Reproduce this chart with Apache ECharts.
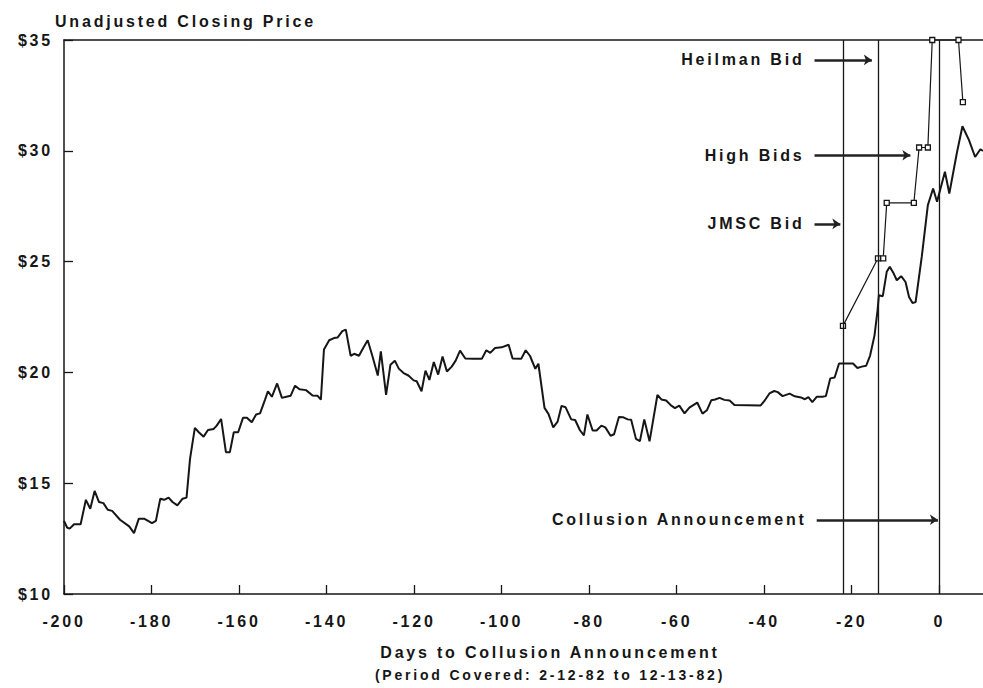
<!DOCTYPE html>
<html>
<head>
<meta charset="utf-8">
<title>Unadjusted Closing Price</title>
<script src="https://cdn.jsdelivr.net/npm/echarts@6/dist/echarts.min.js"></script>
<style>
  html, body { margin: 0; padding: 0; background: #fff; }
  #chart { width: 983px; height: 688px; }
  #chart text { letter-spacing: 2.8px; }
</style>
</head>
<body>
<div id="chart"></div>
<script>
// [day relative to announcement, closing price $]
const closingPrices = [
  [-200, 13.3], [-199.3, 13.0], [-198.7, 12.95], [-197.7, 13.15], [-196.2, 13.15], [-195, 14.25],
  [-194, 13.85], [-193, 14.65], [-192, 14.15], [-191, 14.1], [-190, 13.8], [-189, 13.75],
  [-187.2, 13.35], [-185.1, 13.05], [-184, 12.75], [-182.9, 13.4], [-181.7, 13.4], [-179.9, 13.2],
  [-179, 13.3], [-178, 14.3], [-177.1, 14.25], [-176.1, 14.35], [-175.2, 14.15], [-174.1, 14.0],
  [-172.9, 14.3], [-172, 14.35], [-171.2, 16.1], [-170.1, 17.5], [-169.2, 17.3], [-168.1, 17.1],
  [-167.1, 17.4], [-165.8, 17.45], [-165.1, 17.6], [-164.1, 17.9], [-163, 16.4], [-162.1, 16.4],
  [-161.2, 17.3], [-160.2, 17.3], [-159.1, 17.95], [-158.2, 17.95], [-157.1, 17.75], [-156.1, 18.1],
  [-155.2, 18.15], [-154.1, 18.75], [-153.4, 19.15], [-152.5, 18.9], [-151.3, 19.5], [-150.2, 18.85],
  [-149.2, 18.9], [-148.2, 18.95], [-147.2, 19.4], [-146.2, 19.24], [-144.7, 19.2], [-143.2, 18.96],
  [-142.1, 18.95], [-141.3, 18.77], [-140.6, 21.03], [-139.4, 21.45], [-138.3, 21.55], [-137.5, 21.57],
  [-136.4, 21.86], [-135.6, 21.93], [-134.5, 20.75], [-133.7, 20.84], [-132.6, 20.75], [-131.5, 21.15],
  [-130.6, 21.45], [-129.5, 20.72], [-128.3, 19.86], [-127.6, 20.95], [-126.4, 18.99], [-125.4, 20.35],
  [-124.4, 20.53], [-123.5, 20.17], [-122.4, 19.97], [-121.3, 19.86], [-120.1, 19.64], [-119.4, 19.6],
  [-118.3, 19.15], [-117.4, 20.08], [-116.5, 19.66], [-115.5, 20.47], [-114.5, 19.9], [-113.5, 20.72],
  [-112.5, 20.04], [-111.4, 20.26], [-110.5, 20.53], [-109.5, 20.98], [-108.3, 20.63], [-106.4, 20.62],
  [-104.5, 20.62], [-103.5, 21.0], [-102.6, 20.88], [-101.5, 21.1], [-100, 21.13], [-98.4, 21.25],
  [-97.5, 20.63], [-95.5, 20.62], [-94.5, 21.0], [-93.5, 20.74], [-92.3, 20.16], [-91.6, 20.39],
  [-90.2, 18.4], [-89.3, 18.13], [-88.2, 17.52], [-87.2, 17.78], [-86.3, 18.49], [-85.4, 18.43],
  [-84.1, 17.88], [-83.2, 17.85], [-82.1, 17.39], [-81.2, 17.16], [-80.4, 18.1], [-79.2, 17.38],
  [-78.3, 17.38], [-77.2, 17.6], [-76.3, 17.52], [-75.1, 17.14], [-74.3, 17.21], [-73.2, 17.99],
  [-72.3, 17.98], [-71.2, 17.88], [-70.4, 17.86], [-69.3, 17.0], [-68.4, 16.9], [-67.4, 17.88],
  [-66.2, 16.89], [-64.4, 18.98], [-63.5, 18.78], [-62.4, 18.73], [-61.3, 18.51], [-60.4, 18.39],
  [-59.4, 18.5], [-58.2, 18.15], [-57.1, 18.41], [-55.3, 18.64], [-54.1, 18.14], [-53.1, 18.29],
  [-52.1, 18.74], [-51.2, 18.78], [-50.2, 18.85], [-49.1, 18.76], [-47.9, 18.73], [-46.8, 18.53],
  [-43.8, 18.52], [-40.8, 18.51], [-40, 18.7], [-38.8, 19.05], [-37.7, 19.16], [-36.9, 19.11],
  [-35.8, 18.93], [-34.2, 19.04], [-33, 18.92], [-31.6, 18.87], [-30.7, 18.79], [-29.9, 18.88],
  [-29, 18.66], [-28, 18.9], [-26.7, 18.9], [-25.9, 18.93], [-24.9, 19.73], [-23.9, 19.77],
  [-22.9, 20.4], [-21.6, 20.4], [-19.7, 20.4], [-18.7, 20.2], [-17.7, 20.26], [-16.7, 20.3],
  [-15.8, 20.76], [-14.8, 21.66], [-14.1, 22.79], [-13.8, 23.48], [-12.9, 23.44], [-12, 24.54],
  [-11.3, 24.77], [-10.4, 24.46], [-9.7, 24.16], [-8.7, 24.34], [-7.7, 24.08], [-6.9, 23.4],
  [-6.1, 23.13], [-5.4, 23.17], [-4, 25.21], [-2.6, 27.55], [-1.4, 28.3], [-0.5, 27.7],
  [1.3, 29.06], [2.3, 28.07], [4, 29.88], [5.3, 31.11], [6.8, 30.48], [8.2, 29.72],
  [9.4, 30.07], [10, 30.0]
];

// bid line (JMSC, high bids, Heilman)
const bidPrices = [
  [-22, 22.1], [-14, 25.15], [-12.8, 25.15], [-12, 27.65], [-5.8, 27.65],
  [-4.6, 30.15], [-2.6, 30.15], [-1.6, 35], [4.4, 35], [5.4, 32.2]
];

// vertical event lines: JMSC bid, Heilman bid, collusion announcement
const eventDays = [-22, -14, 0];

// arrow annotations
const noteLabels = ['Heilman Bid', 'High Bids', 'JMSC Bid', 'Collusion Announcement'];
const notePrices = [34.1, 29.8, 26.7, 13.35];
const noteFromDays = [-28.5, -28.5, -28.5, -28];
const noteToDays = [-15.4, -6.6, -22.6, -0.3];

const dayTicks = [-200, -180, -160, -140, -120, -100, -80, -60, -40, -20, 0];
const dayAxisMax = 10;
const priceTicks = [10, 15, 20, 25, 30, 35];

const ink = '#161616';
const fontFamily = '"Liberation Sans", Arial, sans-serif';
const textStyle = { color: ink, fontFamily, fontSize: 16, fontWeight: 'bold' };

const chart = echarts.init(document.getElementById('chart'), null, { renderer: 'svg' });

chart.setOption({
  animation: false,
  backgroundColor: '#fff',
  grid: { left: 64, right: 0, top: 40, bottom: 94 },
  xAxis: [
    {
      type: 'value',
      min: dayTicks[0],
      max: dayAxisMax,
      interval: dayTicks[1] - dayTicks[0],
      axisLine: { show: true, onZero: false, lineStyle: { color: ink, width: 1.5 } },
      axisTick: { show: true, inside: true, length: 9, lineStyle: { color: ink, width: 1.3 } },
      axisLabel: { ...textStyle, margin: 19, showMaxLabel: false },
      splitLine: { show: false }
    },
    {
      type: 'value',
      position: 'top',
      min: dayTicks[0],
      max: dayAxisMax,
      axisLine: { show: true, onZero: false, lineStyle: { color: ink, width: 1.5 } },
      axisTick: { show: false },
      axisLabel: { show: false },
      splitLine: { show: false }
    }
  ],
  yAxis: {
    type: 'value',
    min: priceTicks[0],
    max: priceTicks[priceTicks.length - 1],
    interval: priceTicks[1] - priceTicks[0],
    axisLine: { show: true, onZero: false, lineStyle: { color: ink, width: 1.5 } },
    axisTick: { show: true, inside: true, length: 9, lineStyle: { color: ink, width: 1.3 } },
    axisLabel: { ...textStyle, margin: 11, formatter: (v) => '$' + v },
    splitLine: { show: false }
  },
  graphic: [
    { type: 'text', left: 55, top: 13, style: { text: 'Unadjusted Closing Price', fill: ink, font: 'bold 16px ' + fontFamily } },
    { type: 'text', x: 550, y: 652, style: { text: 'Days to Collusion Announcement', fill: ink, font: 'bold 16px ' + fontFamily, align: 'center', verticalAlign: 'middle' } },
    { type: 'text', x: 550, y: 675, style: { text: '(Period Covered: 2-12-82 to 12-13-82)', fill: ink, font: 'bold 14px ' + fontFamily, align: 'center', verticalAlign: 'middle' } }
  ],
  series: [
    {
      name: 'Closing Price',
      type: 'line',
      data: closingPrices,
      symbol: 'none',
      lineStyle: { color: ink, width: 2 },
      emphasis: { disabled: true },
      markLine: {
        silent: true,
        symbol: 'none',
        label: { show: false },
        lineStyle: { color: ink, width: 1.3, type: 'solid' },
        data: eventDays.map((d) => ({ xAxis: d }))
      }
    },
    {
      name: 'Bids',
      type: 'line',
      data: bidPrices,
      clip: false,
      symbol: 'rect',
      symbolSize: 5,
      itemStyle: { color: '#fff', borderColor: ink, borderWidth: 1.3 },
      lineStyle: { color: ink, width: 1.2 },
      emphasis: { disabled: true },
      markLine: {
        silent: true,
        symbol: ['none', 'arrow'],
        symbolSize: 8,
        lineStyle: { color: '#222', width: 2.5, type: 'solid' },
        itemStyle: { color: '#222' },
        label: { show: true, position: 'start', distance: 10, formatter: '{b}', ...textStyle },
        data: noteLabels.map((name, i) => [
          { name, coord: [noteFromDays[i], notePrices[i]] },
          { coord: [noteToDays[i], notePrices[i]] }
        ])
      }
    }
  ]
});
</script>
</body>
</html>
